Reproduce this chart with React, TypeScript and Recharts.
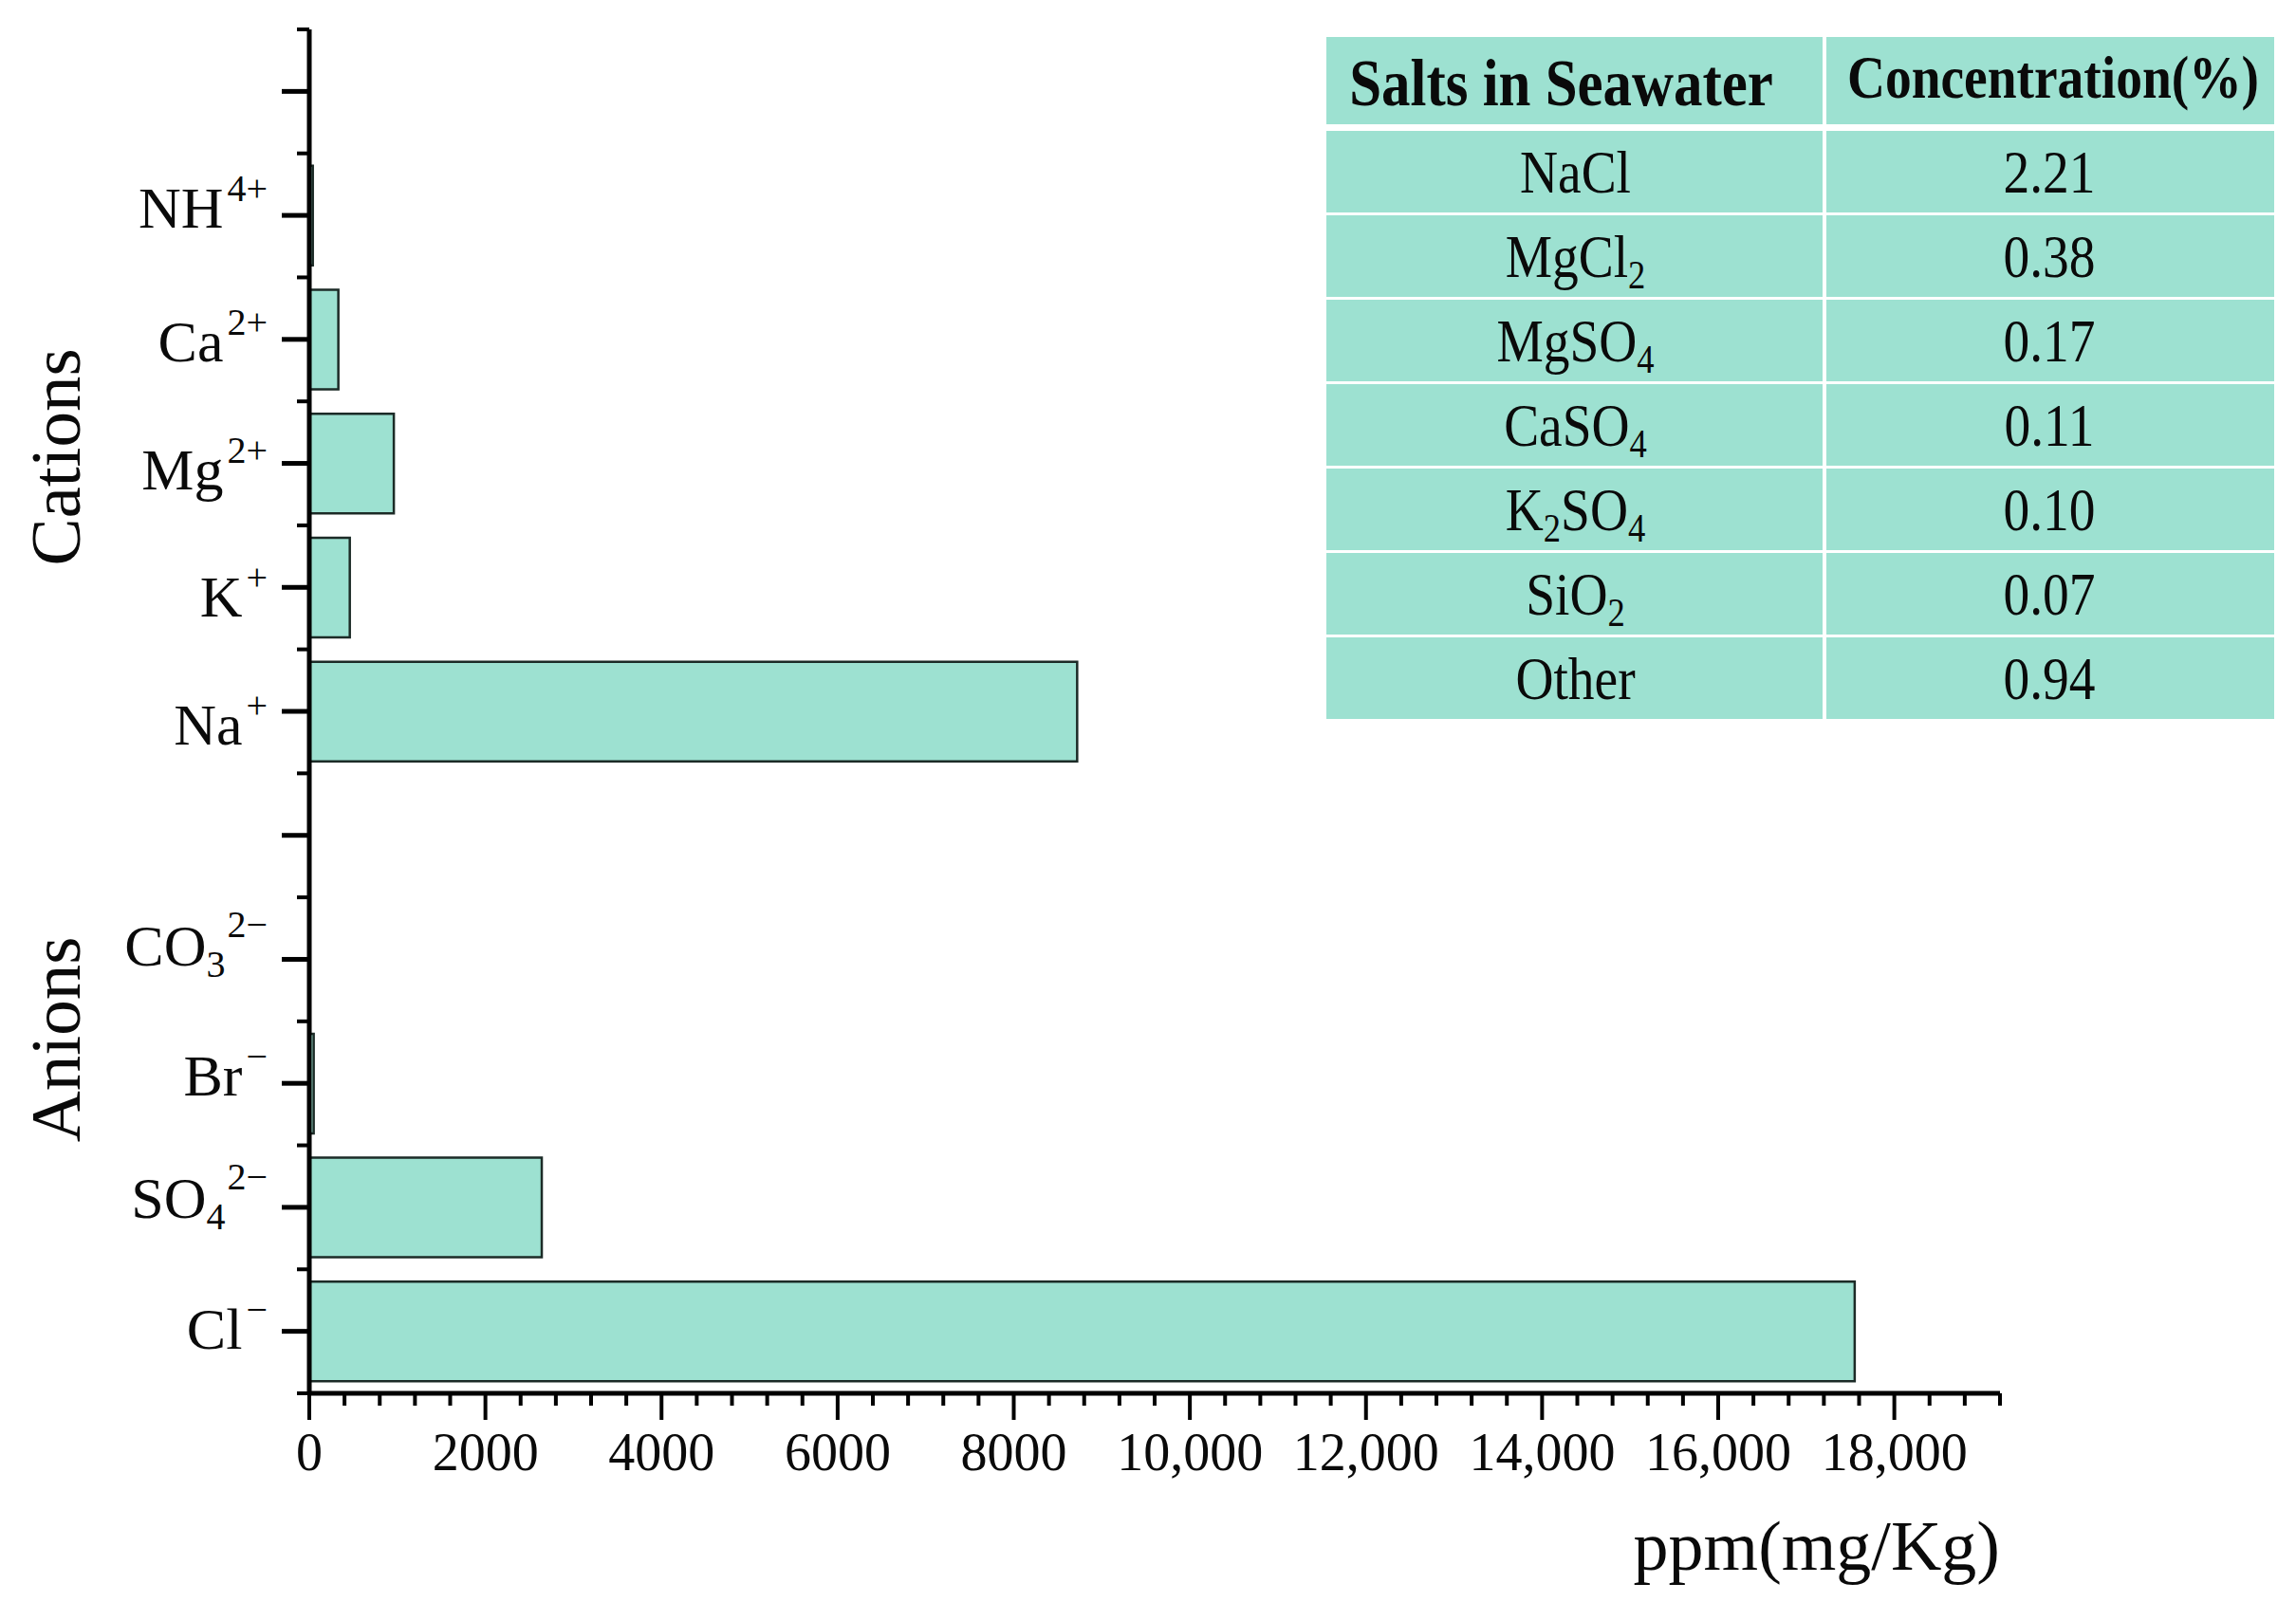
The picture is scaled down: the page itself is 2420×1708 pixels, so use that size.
import React from "react";
import { Bar, BarChart, Label, XAxis, YAxis } from "recharts";

// ion rows, top to bottom ("top" and "gap" are the empty slots)
const ionKeys = ["top", "NH4", "Ca", "Mg", "K", "Na", "gap", "CO3", "Br", "SO4", "Cl"];
const ionNames = ["", "NH", "Ca", "Mg", "K", "Na", "", "CO", "Br", "SO", "Cl"];
const ionSubs = ["", "", "", "", "", "", "", "3", "", "4", ""];
const ionCharges = ["", "4+", "2+", "2+", "+", "+", "", "2−", "−", "2−", "−"];
const ionPpm = [null, 40, 330, 960, 460, 8720, null, 0, 50, 2640, 17550];

const xMajorTicks = [0, 2000, 4000, 6000, 8000, 10000, 12000, 14000, 16000, 18000];
const xMinorStep = 400;
const xMax = 19200;

const tableHeaders = ["Salts in Seawater", "Concentration(%)"];
const saltNames = ["NaCl", "MgCl2", "MgSO4", "CaSO4", "K2SO4", "SiO2", "Other"];
const saltPercents = ["2.21", "0.38", "0.17", "0.11", "0.10", "0.07", "0.94"];

const W = 2420;
const H = 1708;
const M = { top: 31, right: 312, bottom: 139, left: 0 };
const Y_AXIS_W = 326;
const X_AXIS_H = 100;
const PLOT_H = H - M.top - M.bottom - X_AXIS_H;
const BAND = PLOT_H / ionKeys.length;
const FONT = "'Liberation Serif', 'Times New Roman', serif";
const TEAL = "#9de1d1";

// small vertical nudges so labels sit like in the source figure
const labelNudge = [0, -8, 2, 6, 10, 14, 0, -14, -8, -10, -3];

const data = ionKeys.map((k, i) => ({ ion: k, ppm: ionPpm[i] }));

const xTicks: number[] = [];
for (let v = 0; v <= xMax; v += xMinorStep) xTicks.push(v);

const fmtPpm = (v: number) => (v >= 10000 ? v.toLocaleString("en-US") : String(v));

function IonTick(props: any) {
  const { x, y, payload } = props;
  const i = ionKeys.indexOf(payload.value);
  const last = i === ionKeys.length - 1;
  const sub = ionSubs[i];
  const sup = ionCharges[i];
  return (
    <g>
      <line x1={x - 29} x2={x} y1={y} y2={y} stroke="#000" strokeWidth={5} />
      <line x1={x - 13} x2={x} y1={y - BAND / 2} y2={y - BAND / 2} stroke="#000" strokeWidth={4} />
      {last && <line x1={x - 13} x2={x} y1={y + BAND / 2} y2={y + BAND / 2} stroke="#000" strokeWidth={4} />}
      {ionNames[i] && (
        <text x={x - 44} y={y + 21 + labelNudge[i]} textAnchor="end" fontFamily={FONT} fontSize={62} fill="#0a0a0a">
          <tspan>{ionNames[i]}</tspan>
          {sub && (
            <tspan dy={12} fontSize={40}>
              {sub}
            </tspan>
          )}
          {sup && (
            <tspan dy={sub ? -42 : -28} fontSize={40} dx={sub ? 2 : 4}>
              {sup}
            </tspan>
          )}
        </text>
      )}
    </g>
  );
}

function PpmTick(props: any) {
  const { x, y, payload } = props;
  const v = payload.value;
  const major = xMajorTicks.includes(v);
  return (
    <g>
      <line x1={x} x2={x} y1={y} y2={y + (major ? 28 : 13)} stroke="#000" strokeWidth={4} />
      {major && (
        <text x={x} y={y + 81} textAnchor="middle" fontFamily={FONT} fontSize={56} fill="#0a0a0a">
          {fmtPpm(v)}
        </text>
      )}
    </g>
  );
}

function Formula({ text, size }: { text: string; size: number }) {
  const parts = text.match(/\d+|\D+/g) || [];
  let shifted = false;
  return (
    <>
      {parts.map((p, j) => {
        const isSub = /^\d+$/.test(p);
        const dy = isSub && !shifted ? 12 : !isSub && shifted ? -12 : 0;
        shifted = isSub;
        return (
          <tspan key={j} dy={dy} fontSize={isSub ? size * 0.66 : size}>
            {p}
          </tspan>
        );
      })}
    </>
  );
}

function SaltTable() {
  const left = 1398;
  const right = 2397;
  const mid = 1923;
  const top = 39;
  const headH = 92;
  const bodyTop = 138;
  const pitch = 89;
  const rowH = 86;
  return (
    <svg width={W} height={H} style={{ position: "absolute", left: 0, top: 0, pointerEvents: "none" }}>
      <rect x={left} y={top} width={mid - left - 2} height={headH} fill={TEAL} />
      <rect x={mid + 2} y={top} width={right - mid - 2} height={headH} fill={TEAL} />
      <text
        transform={`translate(${(left + mid) / 2 - 15},${top + 72}) scale(0.87,1)`}
        textAnchor="middle"
        fontFamily={FONT}
        fontWeight="bold"
        fontSize={70}
        fill="#0a0a0a"
      >
        {tableHeaders[0]}
      </text>
      <text
        transform={`translate(${(mid + right) / 2 + 4},${top + 64}) scale(0.88,1)`}
        textAnchor="middle"
        fontFamily={FONT}
        fontWeight="bold"
        fontSize={63}
        fill="#0a0a0a"
      >
        {tableHeaders[1]}
      </text>
      {saltNames.map((s, i) => {
        const y = bodyTop + i * pitch;
        return (
          <g key={s}>
            <rect x={left} y={y} width={mid - left - 2} height={rowH} fill={TEAL} />
            <rect x={mid + 2} y={y} width={right - mid - 2} height={rowH} fill={TEAL} />
            <text
              transform={`translate(${(left + mid) / 2},${y + rowH / 2 + 22}) scale(0.88,1)`}
              textAnchor="middle"
              fontFamily={FONT}
              fontSize={63}
              fill="#0a0a0a"
            >
              <Formula text={s} size={63} />
            </text>
            <text
              transform={`translate(${(mid + right) / 2},${y + rowH / 2 + 22}) scale(0.88,1)`}
              textAnchor="middle"
              fontFamily={FONT}
              fontSize={63}
              fill="#0a0a0a"
            >
              {saltPercents[i]}
            </text>
          </g>
        );
      })}
    </svg>
  );
}

export default function App() {
  return (
    <div style={{ position: "absolute", left: 0, top: 0, width: W, height: H, background: "#fff" }}>
      <BarChart width={W} height={H} data={data} layout="vertical" margin={M} barCategoryGap="10%">
        <XAxis
          type="number"
          dataKey="ppm"
          domain={[0, xMax]}
          ticks={xTicks}
          interval={0}
          height={X_AXIS_H}
          tickSize={0}
          tickMargin={0}
          tickLine={false}
          axisLine={{ stroke: "#000", strokeWidth: 5 }}
          tick={<PpmTick />}
        >
          <Label
            content={(p: any) => {
              const vb = p.viewBox || {};
              return (
                <text x={vb.x + vb.width} y={vb.y + 186} textAnchor="end" fontFamily={FONT} fontSize={74} fill="#0a0a0a">
                  ppm(mg/Kg)
                </text>
              );
            }}
          />
        </XAxis>
        <YAxis
          type="category"
          dataKey="ion"
          width={Y_AXIS_W}
          interval={0}
          tickSize={0}
          tickMargin={0}
          tickLine={false}
          axisLine={{ stroke: "#000", strokeWidth: 5 }}
          tick={<IonTick />}
        >
          <Label
            content={(p: any) => {
              const vb = p.viewBox || {};
              const x = vb.x + 84;
              const yC = vb.y + 451;
              const yA = vb.y + 1065;
              return (
                <g fontFamily={FONT} fontSize={75} fill="#0a0a0a">
                  <text x={x} y={yC} textAnchor="middle" transform={`rotate(-90 ${x} ${yC})`}>
                    Cations
                  </text>
                  <text x={x} y={yA} textAnchor="middle" transform={`rotate(-90 ${x} ${yA})`}>
                    Anions
                  </text>
                </g>
              );
            }}
          />
        </YAxis>
        <Bar dataKey="ppm" fill={TEAL} stroke="#1c2b27" strokeWidth={2.5} isAnimationActive={false} />
      </BarChart>
      <SaltTable />
    </div>
  );
}
